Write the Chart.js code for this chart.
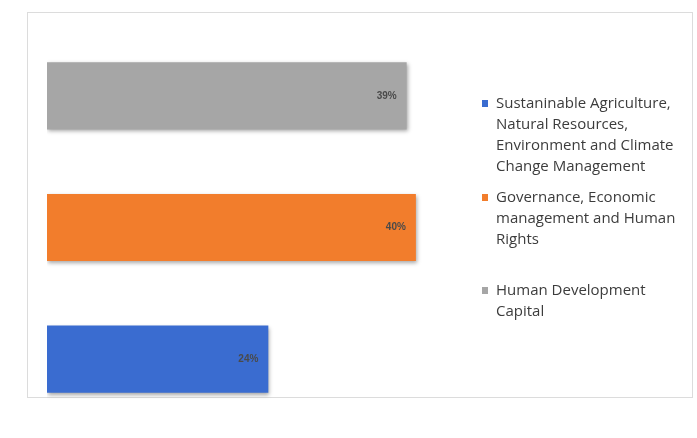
<!DOCTYPE html>
<html>
<head>
<meta charset="utf-8">
<script src="https://cdn.jsdelivr.net/npm/chart.js@4.4.1/dist/chart.umd.min.js"></script>
<style>
  html, body { margin: 0; padding: 0; background: #ffffff; }
  #wrap { position: relative; width: 697px; height: 438px; overflow: hidden; }
  #frame { position: absolute; left: 27px; top: 12px; width: 666px; height: 386px; border: 1px solid #dcdcdc; box-sizing: border-box; }
  canvas { position: absolute; left: 0; top: 0; }
  #legend { position: absolute; left: 482px; top: 92px; width: 202px; font-family: "Open Sans", "Liberation Sans", sans-serif; font-size: 15px; line-height: 21px; color: #3c3c3c; }
  .item { position: relative; padding-left: 14px; }
  .sw { position: absolute; left: 0; top: 8px; width: 6px; height: 7px; }
</style>
</head>
<body>
<div id="wrap">
  <div id="frame"></div>
  <canvas id="c" width="697" height="438"></canvas>
  <div id="legend"></div>
</div>
<script>
// Categories as drawn top to bottom
const categories = [
  "Human Development Capital",
  "Governance, Economic management and Human Rights",
  "Sustaninable Agriculture, Natural Resources, Environment and Climate Change Management"
];
const values = [39, 40, 24];
const colors = ["#a6a6a6", "#f27d2c", "#3a6cd0"];
// Legend order (as in the reference): bottom bar first
const legendOrder = [2, 1, 0];
const legendMargins = [0, 10, 30];

const labelPlugin = {
  id: 'barLabels',
  afterDatasetsDraw(chart) {
    const ctx = chart.ctx;
    const meta = chart.getDatasetMeta(0);
    ctx.save();
    ctx.font = 'bold 10px "Liberation Sans", sans-serif';
    ctx.fillStyle = '#4a4a4a';
    ctx.textAlign = 'right';
    ctx.textBaseline = 'middle';
    meta.data.forEach((bar, i) => {
      ctx.fillText(values[i] + '%', bar.x - 10, bar.y);
    });
    ctx.restore();
  }
};

const shadowPlugin = {
  id: 'barShadow',
  beforeDatasetsDraw(chart) {
    const ctx = chart.ctx;
    ctx.save();
    ctx.shadowColor = 'rgba(0,0,0,0.35)';
    ctx.shadowBlur = 4;
    ctx.shadowOffsetX = 1;
    ctx.shadowOffsetY = 2;
  },
  afterDatasetsDraw(chart) {
    chart.ctx.restore();
  }
};

new Chart(document.getElementById('c'), {
  type: 'bar',
  data: {
    labels: categories,
    datasets: [{
      data: values,
      backgroundColor: colors,
      borderWidth: 0,
      barPercentage: 0.51,
      categoryPercentage: 1.0
    }]
  },
  options: {
    indexAxis: 'y',
    responsive: false,
    animation: false,
    layout: { padding: { left: 47, right: 235, top: 30, bottom: 13 } },
    scales: {
      x: { display: false, min: 0, max: 45 },
      y: { display: false }
    },
    plugins: {
      legend: { display: false },
      tooltip: { enabled: false }
    }
  },
  plugins: [shadowPlugin, labelPlugin]
});

const legend = document.getElementById('legend');
legendOrder.forEach((idx, k) => {
  const item = document.createElement('div');
  item.className = 'item';
  item.style.marginTop = legendMargins[k] + 'px';
  const sw = document.createElement('span');
  sw.className = 'sw';
  sw.style.background = colors[idx];
  item.appendChild(sw);
  item.appendChild(document.createTextNode(categories[idx]));
  legend.appendChild(item);
});
</script>
</body>
</html>
